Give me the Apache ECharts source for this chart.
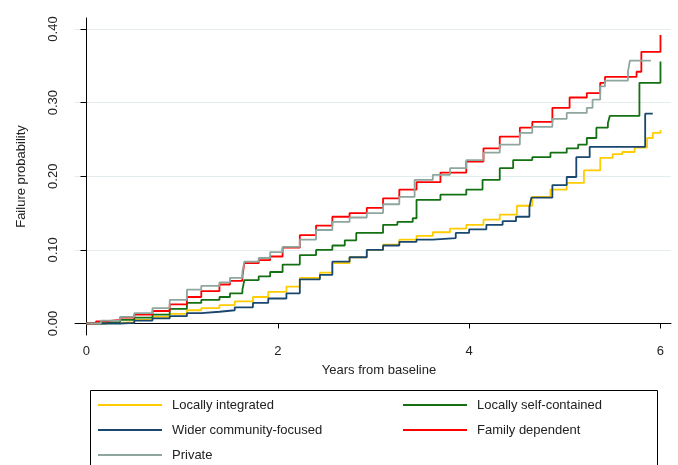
<!DOCTYPE html>
<html>
<head>
<meta charset="utf-8">
<script src="https://cdn.jsdelivr.net/npm/echarts@6/dist/echarts.min.js"></script>
<style>
  html, body { margin: 0; padding: 0; background: #fff; }
  #main { width: 678px; height: 465px; }
</style>
</head>
<body>
<div id="main"></div>
<script>
// cumulative failure probability, [years, probability] step points
const locallyIntegrated = [
  [0, 0], [0.15, 0.001], [0.35, 0.002], [0.5, 0.005], [0.69, 0.009], [0.87, 0.013], [1.05, 0.018],
  [1.2, 0.021], [1.39, 0.025], [1.55, 0.03], [1.74, 0.036], [1.9, 0.043], [2.09, 0.05], [2.23, 0.062],
  [2.44, 0.069], [2.57, 0.082], [2.75, 0.09], [2.93, 0.1], [3.1, 0.107], [3.27, 0.114], [3.45, 0.119],
  [3.62, 0.124], [3.8, 0.129], [3.97, 0.134], [4.15, 0.141], [4.32, 0.148], [4.5, 0.16], [4.66, 0.172],
  [4.85, 0.182], [5.02, 0.191], [5.2, 0.208], [5.37, 0.225], [5.5, 0.23], [5.6, 0.233], [5.73, 0.239],
  [5.86, 0.252], [5.92, 0.259], [6.0, 0.263]
]
const selfContained = [
  [0, 0], [0.15, 0.002], [0.35, 0.005], [0.5, 0.008], [0.69, 0.012], [0.87, 0.02], [1.05, 0.028],
  [1.2, 0.032], [1.39, 0.036], [1.5, 0.041], [1.63, 0.046], [1.65, 0.059], [1.8, 0.064], [1.92, 0.07],
  [2.05, 0.08], [2.23, 0.093], [2.4, 0.1], [2.57, 0.106], [2.7, 0.113], [2.82, 0.123], [3.1, 0.134],
  [3.25, 0.138], [3.41, 0.143], [3.45, 0.168], [3.7, 0.175], [3.97, 0.182], [4.14, 0.195], [4.32, 0.211],
  [4.46, 0.222], [4.66, 0.226], [4.85, 0.232], [5.02, 0.238], [5.14, 0.243], [5.23, 0.252], [5.33, 0.266],
  [5.45, 0.272], [5.47, 0.282], [5.78, 0.327], [6.0, 0.356]
]
const widerCommunity = [
  [0, 0], [0.15, 0.0], [0.35, 0.001], [0.5, 0.004], [0.69, 0.007], [0.87, 0.01], [1.05, 0.014],
  [1.2, 0.016], [1.39, 0.018], [1.55, 0.022], [1.74, 0.028], [1.9, 0.034], [2.09, 0.041], [2.23, 0.06],
  [2.44, 0.066], [2.57, 0.084], [2.75, 0.09], [2.93, 0.1], [3.1, 0.106], [3.27, 0.111], [3.45, 0.114],
  [3.62, 0.116], [3.86, 0.123], [4.0, 0.128], [4.18, 0.134], [4.35, 0.139], [4.49, 0.145], [4.63, 0.158],
  [4.65, 0.171], [4.87, 0.188], [5.02, 0.199], [5.12, 0.226], [5.26, 0.24], [5.84, 0.285], [5.92, 0.285]
]
const familyDependent = [
  [0, 0], [0.1, 0.003], [0.2, 0.005], [0.35, 0.008], [0.5, 0.012], [0.69, 0.017], [0.87, 0.026],
  [1.05, 0.036], [1.2, 0.044], [1.39, 0.053], [1.5, 0.058], [1.63, 0.064], [1.65, 0.082], [1.8, 0.086],
  [1.92, 0.091], [2.05, 0.103], [2.23, 0.12], [2.4, 0.133], [2.57, 0.145], [2.75, 0.15], [2.93, 0.157],
  [3.1, 0.17], [3.27, 0.182], [3.45, 0.192], [3.7, 0.205], [3.97, 0.22], [4.15, 0.238], [4.32, 0.254],
  [4.53, 0.266], [4.66, 0.274], [4.87, 0.293], [5.05, 0.307], [5.23, 0.313], [5.37, 0.327], [5.42, 0.335],
  [5.75, 0.342], [5.8, 0.369], [6.0, 0.392]
]
const privateSector = [
  [0, 0], [0.15, 0.004], [0.35, 0.009], [0.5, 0.014], [0.69, 0.021], [0.87, 0.032], [1.05, 0.046],
  [1.2, 0.051], [1.39, 0.056], [1.5, 0.062], [1.63, 0.07], [1.65, 0.084], [1.8, 0.089], [1.92, 0.097],
  [2.05, 0.104], [2.23, 0.114], [2.4, 0.127], [2.57, 0.138], [2.75, 0.144], [2.93, 0.15], [3.1, 0.162],
  [3.27, 0.172], [3.43, 0.195], [3.62, 0.202], [3.8, 0.211], [3.97, 0.222], [4.15, 0.232], [4.32, 0.243],
  [4.53, 0.259], [4.66, 0.267], [4.87, 0.278], [5.02, 0.286], [5.23, 0.293], [5.29, 0.304], [5.37, 0.322],
  [5.42, 0.33], [5.66, 0.342], [5.68, 0.357], [5.9, 0.357]
]

const xTicks = [0, 2, 4, 6]
const yTicks = [0, 0.1, 0.2, 0.3, 0.4]

const font = 'Liberation Sans, Arial, sans-serif'

const chart = echarts.init(document.getElementById('main'))

function stepLine(name, data, color) {
  return {
    name: name,
    type: 'line',
    step: 'end',
    data: data,
    showSymbol: false,
    color: color,
    lineStyle: { color: color, width: 1.8 },
    animation: false
  }
}

const legendBase = {
  orient: 'vertical',
  top: 397,
  padding: 0,
  itemGap: 9,
  itemWidth: 64,
  itemHeight: 2,
  icon: 'rect',
  selectedMode: false,
  textStyle: { fontFamily: font, fontSize: 13, color: '#222', lineHeight: 16, padding: [0, 0, 0, 5] }
}

chart.setOption({
  backgroundColor: '#fff',
  animation: false,
  grid: { left: 75, right: 7, top: 18, bottom: 130 },
  xAxis: {
    type: 'value',
    min: -0.12,
    max: 6.11,
    name: 'Years from baseline',
    nameLocation: 'middle',
    nameGap: 29,
    nameTextStyle: { fontFamily: font, fontSize: 13, color: '#222', padding: [0, 0, 0, 12] },
    axisLine: { show: true, lineStyle: { color: '#000', width: 1 } },
    axisTick: { show: true, length: 5, customValues: xTicks, lineStyle: { color: '#000' } },
    axisLabel: { customValues: xTicks, margin: 10, fontFamily: font, fontSize: 13, color: '#222' },
    splitLine: { show: false }
  },
  yAxis: {
    type: 'value',
    min: -0.0156,
    max: 0.415,
    name: 'Failure probability',
    nameLocation: 'middle',
    nameGap: 47,
    nameTextStyle: { fontFamily: font, fontSize: 13, color: '#222' },
    axisLine: { show: true, lineStyle: { color: '#000', width: 1 } },
    axisTick: { show: true, length: 6, customValues: yTicks, lineStyle: { color: '#000' } },
    axisLabel: {
      customValues: yTicks,
      rotate: 90,
      margin: 15,
      fontFamily: font,
      fontSize: 13,
      color: '#222',
      formatter: v => v.toFixed(2)
    },
    splitLine: { show: true, lineStyle: { color: '#e3ecef', width: 1 } }
  },
  legend: [
    Object.assign({}, legendBase, {
      left: 98,
      data: ['Locally integrated', 'Wider community-focused', 'Private']
    }),
    Object.assign({}, legendBase, {
      left: 403,
      data: ['Locally self-contained', 'Family dependent']
    })
  ],
  graphic: [{
    type: 'rect',
    shape: { x: 90.5, y: 390.5, width: 567, height: 90 },
    style: { fill: 'none', stroke: '#000', lineWidth: 1 },
    silent: true
  }],
  series: [
    stepLine('Locally integrated', locallyIntegrated, '#ffcc00'),
    stepLine('Locally self-contained', selfContained, '#137013'),
    stepLine('Wider community-focused', widerCommunity, '#1a476f'),
    stepLine('Family dependent', familyDependent, '#ff0000'),
    stepLine('Private', privateSector, '#8fa69e')
  ]
})
</script>
</body>
</html>
